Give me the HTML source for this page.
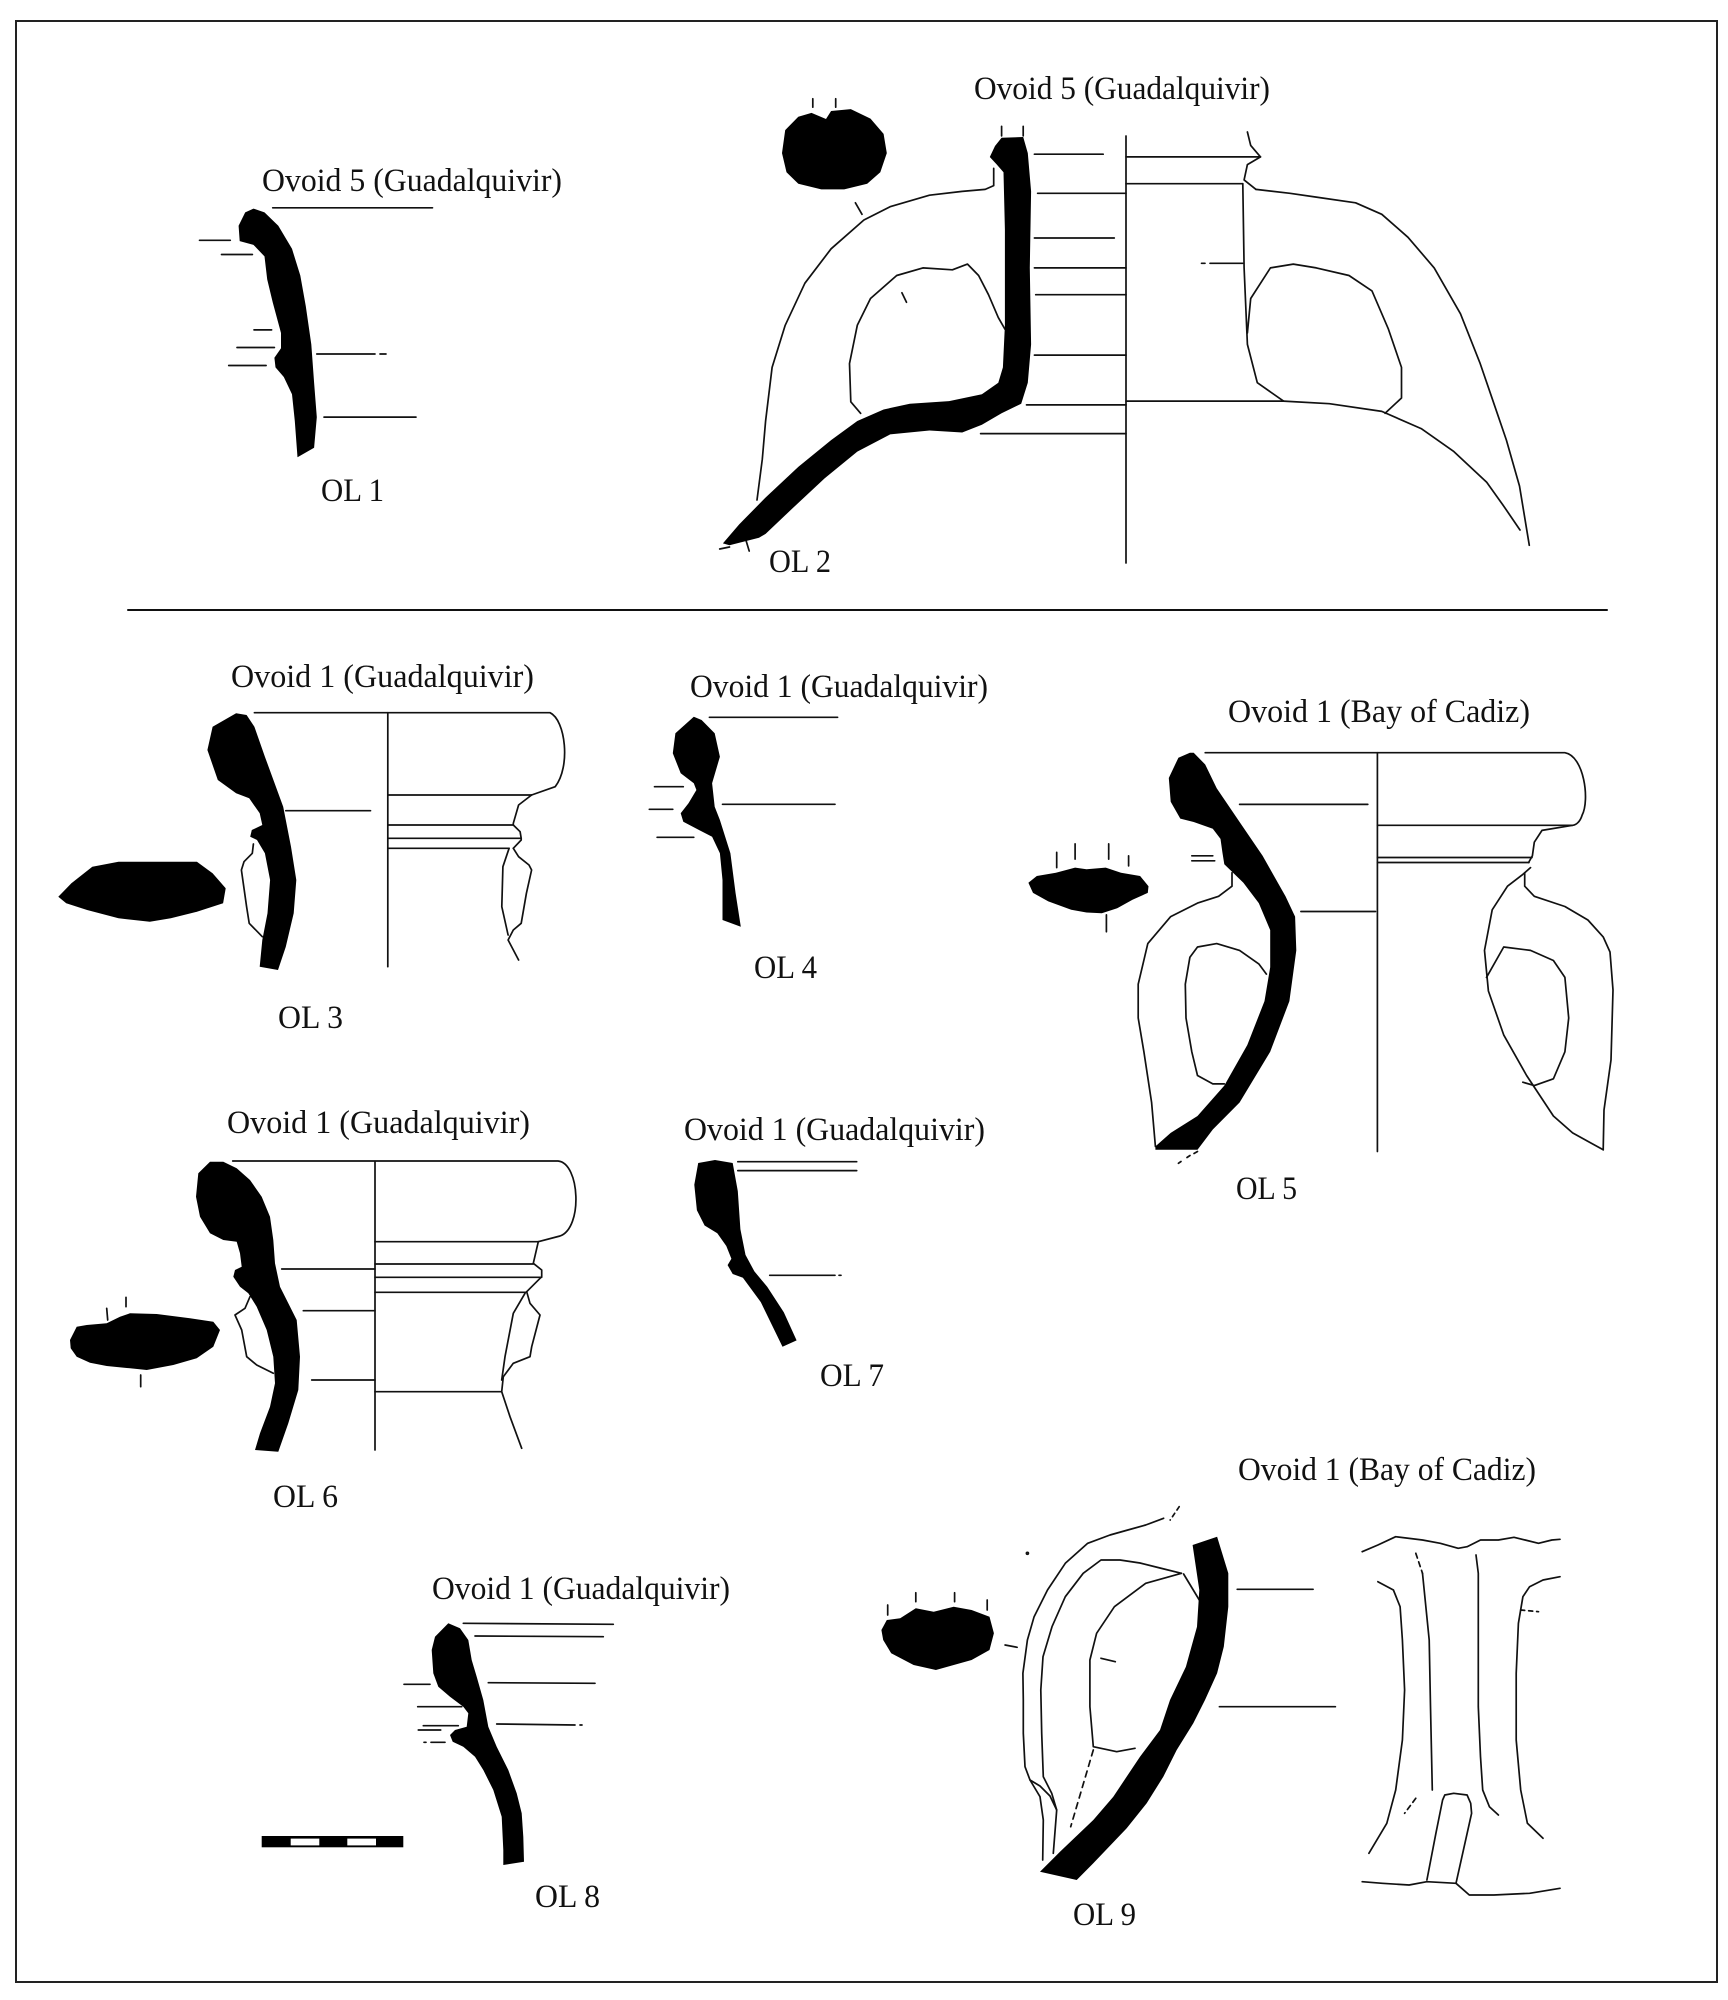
<!DOCTYPE html>
<html><head><meta charset="utf-8"><style>html,body{margin:0;padding:0;background:#fff}svg{display:block}</style></head>
<body>
<svg width="1728" height="2000" viewBox="0 0 1728 2000" xmlns="http://www.w3.org/2000/svg">
<rect width="1728" height="2000" fill="#fff"/>
<rect x="16" y="21" width="1701" height="1961" fill="none" stroke="#222" stroke-width="2"/>

<g fill="none" stroke="#111" stroke-width="1.7" stroke-linecap="round" stroke-linejoin="round">
<!-- separator -->
<line x1="128" y1="610" x2="1607" y2="610" stroke-width="2"/>

<!-- OL1 lines -->
<path d="M272.7,207.8H432.5 M199.5,240.3H230.3 M221.5,254.5H252.4 M254,329.9H271.6 M237,347.5H274.4 M228.7,365.5H266.1 M316.8,354H375 M380,354H386 M324,417.1H416"/>

<!-- OL2 lines -->
<polyline points="993.7,168.4 993.7,185.6 985.2,189.4 962.2,191.4 929.5,195.2 890.1,206.7 863.9,220 831.1,248.8 804.9,283.2 785.2,325.3 772.1,367.4 765.6,421 762.3,459.2 757,500"/>
<polyline points="860.6,413.3 850.8,401.8 849.5,363.6 857.3,325.3 870.5,298.5 896.7,275.5 922.9,267.9 952.4,269.8 967.5,264.1 978.6,275.5 988.5,294.7 998.3,317.6 1004.9,329.1"/>
<path d="M901.9,292.8L906.5,302.3"/>
<path d="M1126,136V563"/>
<path d="M1034.4,154.2H1103.2 M1037.6,193.3H1126 M1034.4,238H1114.3 M1034.4,267.9H1126 M1035.7,294.7H1126 M1034.4,355.1H1126 M1026.5,404.9H1126 M980.6,433.6H1126"/>
<path d="M1126,156.9H1260.5 M1126,183.7H1242.8 M1126,401.1H1283.5"/>
<polyline points="1247.4,132 1250.7,145.4 1260.5,156.9 1247.4,164.6 1244.1,179.9 1256,189.4"/>
<polyline points="1256,189.4 1290,193.3 1316.3,197.1 1355.6,202.8 1381.8,214.3 1408,237.3 1434.2,267.9 1460.5,313.8 1480.2,363.6 1493.3,401.8 1506.4,440.1 1519.5,486 1529.3,545.3"/>
<polyline points="1283.5,401.1 1329.4,403.7 1381.8,411.4 1421.2,428.6 1453.9,451.6 1486.7,482.2 1503.1,505.2 1520,530"/>
<polyline points="1242.8,183.7 1244.1,267.9 1247.4,344.4 1257.3,382.7 1283.5,401.1"/>
<polyline points="1247.4,332.9 1250.7,298.5 1270.4,267.9 1293.3,264.1 1316.3,267.9 1349,275.5 1372,290.9 1388.4,329.1 1401.5,367.4 1401.5,398 1385.1,413.3"/>
<path d="M1201.5,263.3H1205 M1210,263.3H1242.8"/>
<path d="M812.8,98.7V107.2 M835.7,98.7V107.2 M855.4,202.8L862,214.3 M1001.6,126.3V135.9 M1023.2,126.3V135.9 M719.7,549L729.5,547 M745.9,540L749.2,551"/>

<!-- OL3 lines -->
<polyline points="253.4,844 252.3,853.3 244,861.7 241.4,870 246.6,906.7 249.2,923.3 262.3,936.7"/>
<path d="M387.8,712.7V966.7"/>
<path d="M254.4,712.7H550 C565.6,720 570.8,766.7 555.2,786.7 L531.6,795"/>
<path d="M387.8,795H531.6 M387.8,825H513.3 M387.8,838.3H521.2 M387.8,848.3H508.1"/>
<polyline points="531.6,795 518.6,805 513.3,823.3 513.3,825 520.1,831.7 521.2,838.3 521.2,840 513.3,848.3"/>
<polyline points="513.3,848.3 518.6,856.7 529,865 531.6,870 526.4,893.3 521.2,923.3 513.3,930 508.1,940 518.6,960"/>
<polyline points="509.1,848.3 502.9,866.7 501.8,906.7 508.1,935"/>
<path d="M285.8,810.7H370.5"/>

<!-- OL4 lines -->
<path d="M709.4,717.3H837.6 M722.5,804.3H835 M654.5,786.7H683.3 M649.3,809.3H672.8 M657.1,837.3H693.8"/>

<!-- OL5 lines -->
<path d="M1377.4,752.7V1151.5"/>
<path d="M1205.2,752.7H1564.9 C1584,756 1590,800 1582.1,815.2 C1580,822 1576,825 1572.6,825.3"/>
<path d="M1377.4,825.3H1572.6 M1377.4,857.5H1532 M1377.4,862.5H1529"/>
<polyline points="1572.6,825.3 1542,830.4 1534.3,842.2 1532.4,855.8 1528.6,862.5"/>
<path d="M1239.6,804.4H1367.8 M1300.9,911.5H1375.5 M1191.8,855.8H1212.8 M1191.8,860.8H1214.7"/>
<polyline points="1530.5,867.6 1522.8,874.4 1507.5,886.2 1492.2,909.8 1484.5,950.4 1488.4,991 1503.7,1034.9 1526.6,1075.5 1553.4,1116 1572.6,1132.9 1603.2,1149.8"/>
<polyline points="1524.7,872.7 1524.7,886.2 1534.3,896.3 1564.9,906.5 1587.9,920 1603.2,936.9 1610,952 1613,990 1611,1060 1604,1110 1603.2,1149.8"/>
<polyline points="1486.5,977.4 1490.3,970.7 1503.7,947 1530.5,950.4 1553.4,960.5 1564.9,977.4 1568.7,1018 1564.9,1051.8 1553.4,1078.8 1534.3,1085.6 1522.8,1082.2"/>
<polyline points="1232,872.7 1232,886.2 1218.6,896.3 1197.5,903.1 1170.7,916.6 1147.8,943.6 1138.2,984.2 1138.2,1018 1143.9,1051.8 1151.6,1102.5 1155.4,1146.4"/>
<polyline points="1266.4,974.1 1258.8,963.9 1239.6,950.4 1216.7,943.6 1197.5,947 1189.9,957.2 1185.3,984.2 1186,1018 1191.8,1051.8 1197.5,1075.5 1212.8,1083.9 1224.3,1083.9"/>
<path d="M1056.7,852.4V867.6 M1075.1,843.9V859.1 M1108.7,843.9V859.1 M1128.6,855.8V865.9 M1106.4,914.9V931.8"/>
<path d="M1178.4,1163.3L1181,1161.5 M1187,1157.5L1190,1155.5 M1194,1153.5L1197.5,1151.5"/>

<!-- OL6 lines -->
<polyline points="250,1296.7 245,1308.3 235,1315 241.7,1330 246.7,1356.7 256.7,1365 273.3,1373.3"/>
<path d="M375,1161.7V1450"/>
<path d="M232.7,1161H558 C580,1163 583,1228 560,1236 L538.3,1241.7"/>
<path d="M375,1241.7H538.3 M375,1264H533.3 M375,1277.3H541.7 M375,1292.3H526.7 M375,1391.7H501.7"/>
<polyline points="538.3,1241.7 533.3,1263.3 541.7,1270 541.7,1276.7 526.7,1291.7"/>
<polyline points="526.7,1291.7 530,1303.3 540,1315 531.7,1346.7 530,1356.7 513.3,1363.3 503.3,1376.7 501.7,1391.7"/>
<polyline points="525,1293.3 513.3,1313.3 505,1356.7 501.7,1380"/>
<polyline points="501.7,1391.7 510,1416.7 521.7,1448.3"/>
<path d="M281.7,1269H375 M303.3,1310.7H375 M311.7,1380H375"/>
<path d="M106.7,1308.3L107.7,1320 M126,1297.3V1306.7 M140.7,1375V1386.7"/>

<!-- OL7 lines -->
<path d="M737.8,1161.7H856.7 M737.8,1170.6H856.7 M769.7,1275.3H835 M839,1275.3H841"/>

<!-- OL8 lines -->
<path d="M463.3,1623.3L613.3,1624.3 M475,1636L603.3,1636.7 M488.3,1682.7L595,1683.3 M496.7,1724L575,1725 M580,1725H582 M404,1684.3H430 M417.7,1706.7H461.7 M423.3,1725.7H458.3 M418.3,1730H440.7 M431,1742.3H445 M424,1742.3H426"/>

<!-- OL9 lines -->
<path d="M1179.2,1506.7L1170.2,1520" stroke-dasharray="4 4"/>
<polyline points="1163.6,1518.3 1145.7,1525 1127.8,1530 1110,1535 1087.7,1543.3 1065.3,1563.3 1047.5,1590 1034.1,1616.7 1027.4,1640 1022.9,1673.3 1023.3,1700 1023.3,1733.3 1025,1766.7 1030,1780 1040,1796.7 1043.3,1820 1042.7,1860"/>
<polyline points="1181.4,1573.3 1160,1568 1140,1563 1120,1560 1101,1560 1083.2,1573.3 1065.3,1596.7 1052,1626.7 1043,1656.7 1040.8,1690 1041.7,1733.3 1043.3,1776.7 1051.7,1793.3 1056.7,1810 1053.3,1853.3"/>
<polyline points="1030,1780 1040,1786 1050,1796 1056.7,1810"/>
<polyline points="1183.6,1574 1199.3,1600"/>
<polyline points="1181.4,1573.3 1145.7,1583.3 1114.4,1606.7 1096.6,1633.3 1089.9,1660 1089.9,1706.7 1093.3,1746.7 1116.7,1751.7 1135,1748.3"/>
<path d="M1093.3,1750L1070.7,1826.7" stroke-dasharray="6 5"/>
<path d="M1101,1658.3L1115.3,1661.7"/>
<circle cx="1027.4" cy="1553.3" r="1"/>
<path d="M887.7,1605V1615 M915.8,1592.7V1601.7 M954.6,1592.7V1601.7 M987.2,1600V1610 M1005.1,1645L1017.1,1647.3"/>
<path d="M1237.2,1589.3H1313.1 M1219.4,1706.7H1335.4"/>
<polyline points="1362.2,1551.7 1377.9,1545 1395.7,1536.7 1422.5,1540 1440.3,1543.3 1458.2,1548.3 1467.1,1546.7 1480.5,1540 1498.4,1540 1514,1537.3 1525.1,1540 1538.5,1543.3 1551.9,1540 1560,1539.3"/>
<polyline points="1377.9,1581.7 1393.4,1590 1400.1,1606.7 1402.4,1640 1404.6,1690 1402.4,1740 1395.7,1790 1386.8,1823.3 1368.9,1853.3"/>
<path d="M1415.8,1553.3L1422.5,1573.3" stroke-dasharray="5 4"/>
<polyline points="1422.5,1573.3 1429.2,1640 1430.5,1706.7 1432.3,1790"/>
<path d="M1415.8,1798.3L1404.6,1813.3" stroke-dasharray="5 4"/>
<polyline points="1476,1555 1478.3,1573.3 1478.3,1640 1478.3,1706.7 1480.5,1756.7 1482.7,1790 1489.4,1806.7 1498.4,1815"/>
<polyline points="1560,1576.7 1543,1580 1529.6,1586.7 1522.9,1596.7 1518.4,1623.3 1516.2,1673.3 1516.2,1740 1520.7,1790 1527.4,1823.3 1543,1838.3"/>
<path d="M1520.7,1610L1538.5,1611.7" stroke-dasharray="4 4"/>
<polyline points="1426.9,1880 1435.9,1833.3 1442.6,1800 1444.8,1795 1453.7,1793.3 1467.1,1795 1470.7,1803.3 1471.6,1813.3 1456,1883.3"/>
<polyline points="1362.2,1881.7 1382.3,1883.3 1409.1,1885 1426.9,1881.7 1456,1883.3 1469.3,1895 1493.9,1895 1529.6,1893.3 1560,1888.3"/>
</g>

<g fill="#000" stroke="none">
<!-- OL1 -->
<polygon points="253.5,208.6 264.5,212.4 278.3,225.8 292,248.8 300.3,275.5 305.8,306.2 311.3,344.4 314.1,382.7 316.8,417.1 314.1,447.8 297.5,457.3 294.8,421 292,394.2 283.8,377 275.5,367.4 274.4,357.8 281,348.3 281,333 272.7,302.3 267.2,279.4 264.5,256.4 253.5,244.9 239.7,241.1 238.6,225.8 245.2,212.4"/>
<!-- OL2 blob -->
<polygon points="782,153.1 785.2,130.1 798.3,116.7 811.5,112.9 826,119 831.1,111 850.8,109.1 870.5,118.6 883.6,133.9 886.8,153.1 880.3,172.2 867.2,183.7 844.2,189.4 821.3,189.4 798.3,183.7 786.5,172.2"/>
<!-- OL2 profile -->
<polygon points="1001.6,137.8 1023.2,137 1027.8,153.1 1031.1,191.4 1029.8,267.9 1031.1,344.4 1027.8,382.7 1021.2,403.7 1001.6,413.3 981.9,424.8 962.2,432.5 929.5,430.5 890.1,434.4 857.3,451.6 824.6,478.4 791.8,509 765.6,533.9 759,537.7 729.5,545.3 722.9,543.4 739.3,524.3 765.6,497.5 798.3,466.9 831.1,440.1 857.3,421 883.6,409.5 909.8,403.7 949.1,401.1 981.9,394.2 998.3,382.7 1002.9,367.4 1004.9,325.3 1004.9,229.6 1003.5,172.2 996.3,164 989.8,157 995,146"/>
<!-- OL3 -->
<polygon points="236.1,713.3 212.6,726.7 207.4,750 217.8,780 236.1,793.3 249.2,798.3 259.7,813.3 262.3,825 251.8,830 250.2,836.7 257,840 264.9,853.3 270.1,880 267.5,913.3 262.3,940 259.7,966.7 278,970 285.8,946.7 293.7,913.3 296.3,880 291,846.7 283.2,806.7 264.9,756.7 254.4,726.7 246.6,715"/>
<polygon points="58.3,896.7 71.4,883.3 92.3,866.7 118.5,861.7 196.9,861.7 212.6,873.3 225.7,888.3 223.1,903.3 196.9,911.7 170.8,918.3 149.8,921.7 118.5,918.3 87.1,910 66.2,903.3"/>
<!-- OL4 -->
<polygon points="693.8,716.7 675.4,733.3 672.8,753.3 680.7,773.3 693.8,783.3 696.4,790 688.5,803.3 680.7,813.3 683.3,821.7 699,830 712.1,836.7 719.9,853.3 722.5,880 722.5,920 740.8,926.7 735.6,893.3 730.4,853.3 719.9,820 714.7,806.7 712.1,783.3 719.9,756.7 714.7,733.3 701.6,720"/>
<!-- OL5 -->
<polygon points="1189.9,752.7 1178.4,757.7 1168.8,778 1170.7,801.7 1180.3,818.6 1193.7,822 1212.8,828.7 1220.5,838.9 1222.4,852.4 1224.3,864.2 1243.4,882.8 1258.8,903.1 1270.2,930.1 1270.2,967.3 1264.5,1001.1 1247.3,1045 1224.3,1085.6 1197.5,1116 1170.7,1132.9 1155.4,1146.4 1155.4,1149.8 1197.5,1149.8 1212.8,1129.5 1239.6,1102.5 1270.2,1051.8 1289.4,1001.1 1296.3,950.4 1295.1,916.6 1285.5,896.3 1262.6,855.8 1239.6,822 1216.7,788.2 1205.2,764.5 1193.7,752.7"/>
<polygon points="1028.4,882.8 1036.8,876 1055.9,872.7 1075.1,867.6 1086.5,869.3 1105.7,867.6 1121,872.7 1140.1,876 1148.5,886.2 1147.8,892.9 1132.5,899.7 1117.2,908.2 1101.8,913.2 1086.5,912.5 1071.2,909.8 1048.3,901.4 1033,892.9"/>
<!-- OL6 -->
<polygon points="210,1161.7 198.3,1173.3 196,1196.7 200,1216.7 210,1233.3 223.3,1240 236.7,1241.7 240,1253.3 241.7,1266.7 235,1270 233.3,1276.7 240,1286.7 248.3,1293.3 256.7,1306.7 266.7,1330 273.3,1356.7 275,1383.3 270,1406.7 260,1433.3 255,1450 278.3,1451.7 288.3,1423.3 298.3,1390 300,1356.7 296.7,1320 288.3,1303.3 280,1286.7 275,1263.3 273.3,1240 270,1216.7 261.7,1196.7 250,1180 236.7,1168.3 223.3,1161.7"/>
<polygon points="70,1340 76.7,1326.7 86.7,1325 106.7,1323.3 120,1316.7 130,1313.3 156.7,1314 190,1318.3 213.3,1321.7 220,1330 213.3,1346.7 196.7,1358.3 173.3,1365 146.7,1370 130,1368.3 106.7,1366 90,1362.7 76.7,1356.7 70.7,1348.3"/>
<!-- OL7 -->
<polygon points="698.2,1163 694.3,1184.7 696.9,1210.2 704.6,1225.5 717.3,1233.2 726.3,1246 731.4,1258.7 727.6,1265.1 732.7,1274 742.9,1277.8 760.8,1302.1 782.5,1346.7 796.6,1340.4 783.8,1312.3 767.2,1286.8 754.4,1271.4 745.5,1254.9 740.4,1229.3 737.8,1191.1 732.7,1163 715,1160"/>
<!-- OL8 -->
<polygon points="448.3,1623.3 460,1628.3 468.3,1640 471.7,1660 476.7,1676.7 483.3,1700 488.3,1726.7 496.7,1746.7 508.3,1770 516.7,1793.3 521.7,1813.3 523.3,1836.7 524,1861.7 503.3,1865 503.3,1850 501.7,1816.7 493.3,1790 483.3,1770 475,1756.7 463.3,1746.7 452.7,1741.7 450,1735 455,1730 466.7,1726.7 468.3,1713.3 463.3,1706.7 450,1696.7 438.3,1686.7 433.3,1673.3 431.7,1650 435,1636.7"/>
<!-- scale bar -->
<rect x="261.7" y="1836" width="141.6" height="11.3"/>
<rect x="290.7" y="1838.6" width="28.6" height="6.8" fill="#fff"/>
<rect x="347.3" y="1838.6" width="28.7" height="6.8" fill="#fff"/>
<!-- OL9 -->
<polygon points="881.4,1630 886.8,1620 900.2,1618.3 915.8,1608.3 933.7,1611.7 953.7,1606.7 971.6,1610 989.5,1616.7 993.9,1633.3 989.5,1650 971.6,1660 935.9,1670 913.6,1665 891.2,1653.3 883.2,1640"/>
<polygon points="1192.6,1545 1217.1,1536.7 1228.3,1573.3 1228.3,1606.7 1223.8,1646.7 1217.1,1673.3 1205,1700 1193.3,1723.3 1176.7,1750 1163.3,1776.7 1146.7,1803.3 1126.7,1828.3 1093.3,1863.3 1076.7,1880 1040,1871.7 1060,1851.7 1093.3,1820 1113.3,1796.7 1140,1756.7 1160,1730 1170,1700 1185.9,1666.7 1197,1626.7 1199.3,1590"/>
</g>

<g font-family="'Liberation Serif', serif" font-size="33" fill="#111">
<text x="262" y="191" textLength="300" lengthAdjust="spacingAndGlyphs">Ovoid 5 (Guadalquivir)</text>
<text x="974" y="99" textLength="296" lengthAdjust="spacingAndGlyphs">Ovoid 5 (Guadalquivir)</text>
<text x="321" y="501" textLength="63" lengthAdjust="spacingAndGlyphs">OL 1</text>
<text x="769" y="572" textLength="62" lengthAdjust="spacingAndGlyphs">OL 2</text>
<text x="231" y="687" textLength="303" lengthAdjust="spacingAndGlyphs">Ovoid 1 (Guadalquivir)</text>
<text x="690" y="697" textLength="298" lengthAdjust="spacingAndGlyphs">Ovoid 1 (Guadalquivir)</text>
<text x="1228" y="722" textLength="302" lengthAdjust="spacingAndGlyphs">Ovoid 1 (Bay of Cadiz)</text>
<text x="278" y="1028" textLength="65" lengthAdjust="spacingAndGlyphs">OL 3</text>
<text x="754" y="978" textLength="63" lengthAdjust="spacingAndGlyphs">OL 4</text>
<text x="1236" y="1199" textLength="61" lengthAdjust="spacingAndGlyphs">OL 5</text>
<text x="227" y="1133" textLength="303" lengthAdjust="spacingAndGlyphs">Ovoid 1 (Guadalquivir)</text>
<text x="684" y="1140" textLength="301" lengthAdjust="spacingAndGlyphs">Ovoid 1 (Guadalquivir)</text>
<text x="273" y="1507" textLength="65" lengthAdjust="spacingAndGlyphs">OL 6</text>
<text x="820" y="1386" textLength="64" lengthAdjust="spacingAndGlyphs">OL 7</text>
<text x="1238" y="1480" textLength="298" lengthAdjust="spacingAndGlyphs">Ovoid 1 (Bay of Cadiz)</text>
<text x="432" y="1599" textLength="298" lengthAdjust="spacingAndGlyphs">Ovoid 1 (Guadalquivir)</text>
<text x="535" y="1907" textLength="65" lengthAdjust="spacingAndGlyphs">OL 8</text>
<text x="1073" y="1925" textLength="63" lengthAdjust="spacingAndGlyphs">OL 9</text>
</g>
</svg>
</body></html>
